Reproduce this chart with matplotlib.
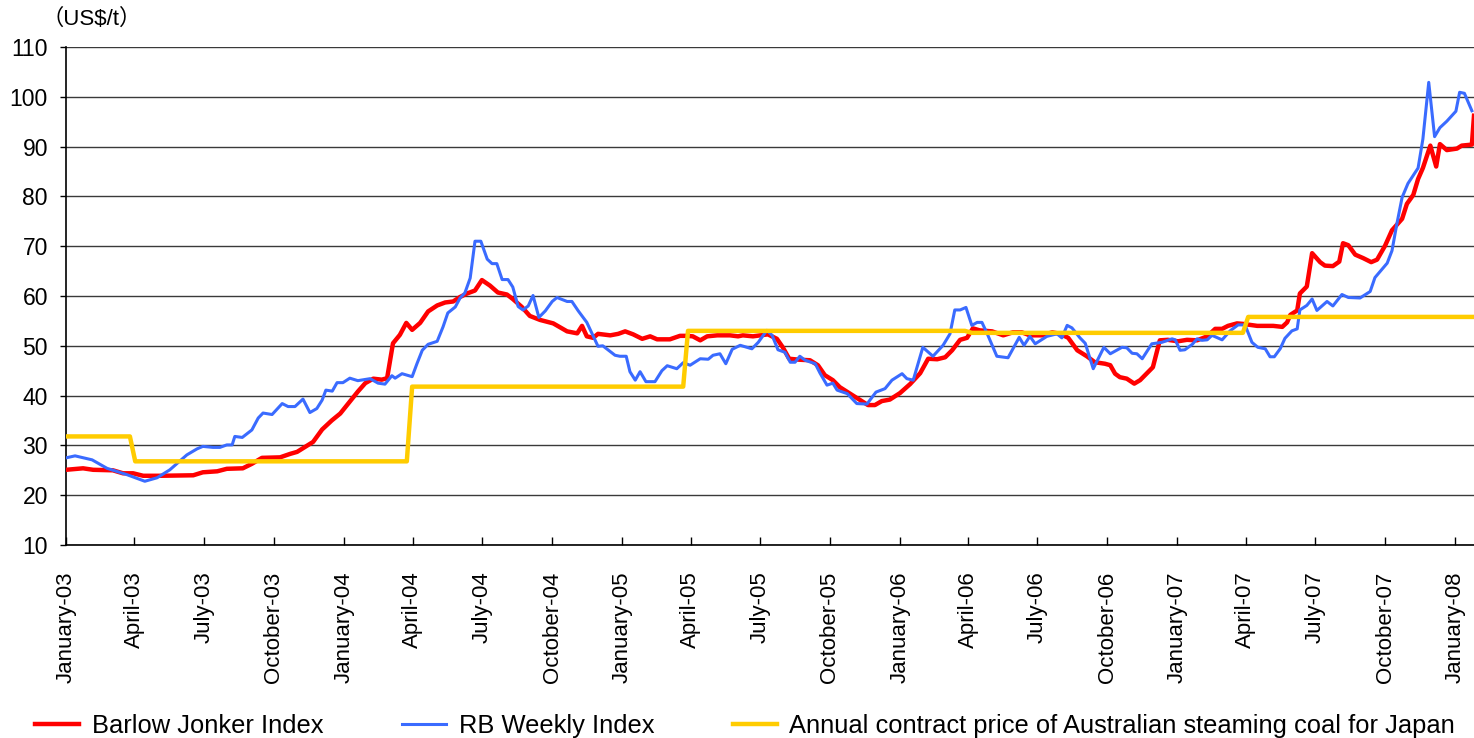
import numpy as np
import pandas as pd
import matplotlib
matplotlib.use("Agg")
import matplotlib.pyplot as plt
import matplotlib.dates as mdates

plt.rcParams['font.family'] = ['Liberation Sans', 'Noto Sans CJK JP', 'DejaVu Sans']

# ---- data (x in weeks since 1 January 2003) ----
start_date = "2003-01-01"
x_end_week = 264.4

red_week = [0.0, 3.2, 5.1, 8.8, 10.7, 12.6, 14.5, 17.7, 23.9, 25.7, 28.4, 30.2, 33.2, 34.9, 36.8,
            40.2, 42.1, 43.4, 44.9, 46.4, 48.1, 49.9, 51.5, 53.3, 54.8, 56.2, 57.7, 59.3, 60.3,
            61.4, 62.7, 63.9, 65.0, 66.5, 68.0, 69.7, 71.2, 72.7, 74.0, 75.3, 76.8, 78.1, 79.6,
            81.1, 82.8, 83.9, 85.6, 87.1, 89.0, 91.5, 94.1, 96.0, 96.9, 97.8, 99.0, 99.9, 102.2,
            103.7, 105.0, 106.5, 108.2, 109.7, 111.0, 113.4, 115.3, 116.6, 117.7, 119.1, 120.4,
            122.3, 124.7, 126.2, 127.1, 129.0, 131.8, 133.5, 134.6, 135.8, 137.8, 139.7, 141.2,
            142.5, 144.0, 145.3, 147.2, 149.1, 150.6, 151.9, 153.2, 154.7, 156.6, 158.5, 160.4,
            161.9, 163.6, 165.1, 166.4, 167.9, 169.2, 170.3, 171.6, 173.9, 176.0, 177.8, 179.5,
            181.0, 183.3, 185.2, 186.7, 188.2, 189.9, 191.7, 193.2, 195.1, 196.1, 197.0, 197.9,
            199.2, 200.6, 201.7, 203.0, 204.1, 205.4, 206.9, 208.8, 210.5, 212.4, 214.3, 215.8,
            217.1, 218.2, 219.9, 221.0, 223.7, 226.7, 228.4, 229.3, 229.9, 231.2, 231.7, 233.0,
            234.0, 235.5, 236.4, 237.9, 239.1, 239.8, 240.8, 242.1, 243.6, 245.1, 246.2, 247.7,
            249.0, 250.9, 251.8, 253.0, 253.9, 254.8, 256.2, 257.3, 258.0, 259.3, 261.2, 262.1,
            264.0, 264.4]
red_val = [25.1, 25.4, 25.1, 25.0, 24.4, 24.4, 23.9, 23.9, 24.0, 24.6, 24.8, 25.3, 25.4, 26.3, 27.5,
           27.6, 28.3, 28.7, 29.7, 30.7, 33.2, 35.0, 36.4, 38.8, 40.8, 42.5, 43.4, 43.2, 43.5,
           50.5, 52.2, 54.6, 53.2, 54.6, 56.9, 58.1, 58.7, 58.9, 59.8, 60.5, 61.1, 63.2, 62.1,
           60.7, 60.3, 59.4, 57.8, 56.0, 55.2, 54.5, 52.9, 52.5, 54.0, 51.9, 51.6, 52.4, 52.1,
           52.4, 52.9, 52.3, 51.4, 51.9, 51.3, 51.3, 52.0, 52.0, 51.9, 51.1, 51.9,
           52.1, 52.1, 51.9, 52.1, 51.9, 52.3, 51.4, 49.7, 47.4, 47.2, 47.1, 46.1,
           44.1, 43.1, 41.7, 40.4, 39.1, 38.1, 38.1, 38.9, 39.2, 40.5, 42.3, 44.5,
           47.4, 47.3, 47.7, 49.1, 51.2, 51.6, 53.5, 53.1, 52.9, 52.1, 52.7, 52.7,
           52.1, 52.1, 52.7, 52.4, 51.6, 49.1, 47.9, 46.7, 46.4, 46.1, 44.4, 43.7,
           43.4, 42.4, 43.1, 44.5, 45.7, 51.1, 51.2, 50.9, 51.2, 51.1, 51.9, 53.4,
           53.4, 54.0, 54.5, 54.4, 54.0, 54.0, 53.8, 54.7, 56.2, 57.1, 60.5, 61.9,
           68.6, 66.8, 66.1, 66.0, 66.9, 70.6, 70.2, 68.3, 67.6, 66.8, 67.3, 70.1,
           73.2, 75.5, 78.5, 80.3, 83.5, 85.7, 90.2, 86.0, 90.5, 89.3, 89.6, 90.2,
           90.4, 96.2]

blue_week = [0.0, 1.7, 4.9, 7.7, 11.5, 14.8, 17.1, 19.5, 21.0, 22.7, 24.6, 25.7, 27.6, 28.9, 30.2,
             31.2, 31.7, 33.1, 34.9, 36.1, 37.0, 38.7, 40.6, 41.7, 43.0, 44.5, 45.8, 47.1, 48.1,
             48.8, 50.0, 50.9, 52.0, 53.3, 54.8, 57.1, 58.6, 59.9, 61.2, 61.8, 63.1, 65.0, 65.9,
             66.9, 68.0, 69.7, 70.8, 71.7, 73.1, 74.0, 74.9, 75.9, 76.8, 77.9, 79.1, 80.0, 80.9,
             81.9, 83.0, 83.9, 84.9, 85.8, 86.8, 87.7, 88.8, 90.0, 91.3, 92.2, 94.1, 95.0, 96.2,
             97.8, 98.8, 99.9, 100.8, 103.1, 104.0, 105.2, 105.9, 106.9, 107.8, 108.9, 110.6,
             111.9, 112.9, 114.7, 115.9, 117.2, 119.1, 120.6, 121.5, 122.8, 123.9, 125.1, 126.6,
             128.8, 130.0, 131.6, 132.6, 133.7, 135.0, 136.0, 136.9, 137.8, 138.8, 140.7, 141.6,
             142.9, 144.0, 144.8, 146.7, 148.5, 150.4, 152.1, 153.8, 155.1, 157.0, 157.9, 159.1,
             160.9, 162.8, 164.7, 166.0, 166.9, 167.9, 169.0, 170.1, 171.1, 172.0, 173.0, 174.8,
             176.9, 179.0, 179.9, 181.0, 182.0, 184.2, 186.1, 187.0, 188.0, 188.9, 190.4, 191.4,
             192.9, 194.9, 196.1, 198.3, 199.2, 200.2, 201.1, 202.1, 203.9, 205.8, 207.7, 208.3,
             209.2, 210.1, 211.5, 212.4, 213.3, 214.3, 215.2, 217.1, 218.6, 220.1, 221.4, 222.7,
             223.8, 225.2, 226.1, 226.9, 228.0, 228.9, 230.2, 231.2, 231.7, 233.0, 234.0, 234.9,
             236.8, 237.9, 239.6, 240.8, 243.0, 244.9, 245.8, 248.1, 249.0, 249.9, 250.9, 252.0,
             253.9, 254.8, 255.9, 257.0, 258.0, 259.3, 261.0, 261.7, 262.6, 264.0]
blue_val = [27.5, 27.9, 27.1, 25.4, 24.1, 22.8, 23.5, 25.1, 26.5, 28.1, 29.3, 29.8, 29.6, 29.6, 30.1,
            30.1, 31.8, 31.6, 33.1, 35.5, 36.5, 36.2, 38.4, 37.8, 37.8, 39.3, 36.6, 37.4, 39.1,
            41.1, 40.9, 42.6, 42.6, 43.5, 43.0, 43.4, 42.5, 42.3, 44.0, 43.5, 44.4, 43.8, 46.4,
            49.1, 50.3, 50.9, 53.8, 56.6, 57.8, 59.6, 60.6, 63.6, 71.0, 71.0, 67.4, 66.5, 66.5,
            63.3, 63.3, 61.8, 57.9, 57.2, 58.0, 60.1, 55.7, 57.0, 58.9, 59.7, 58.9, 58.9, 57.0,
            54.7, 52.4, 49.9, 50.0, 48.1, 47.9, 47.9, 44.8, 43.1, 44.8, 42.8, 42.8,
            45.0, 46.0, 45.4, 46.6, 46.1, 47.4, 47.3, 48.1, 48.4, 46.4, 49.3, 50.1,
            49.4, 50.7, 53.1, 52.1, 49.2, 48.7, 46.7, 46.7, 47.9, 47.1, 46.4, 44.5,
            42.1, 42.5, 41.1, 40.4, 38.4, 38.3, 40.7, 41.4, 43.1, 44.4, 43.4, 43.1,
            49.7, 47.9, 50.1, 52.4, 57.2, 57.2, 57.7, 54.1, 54.7, 54.7, 52.4, 47.9,
            47.6, 51.7, 50.1, 51.9, 50.4, 51.9, 52.4, 51.6, 54.1, 53.6, 51.6, 50.5,
            45.4, 49.7, 48.4, 49.7, 49.6, 48.5, 48.4, 47.4, 50.4, 50.7, 51.4, 51.2,
            49.1, 49.2, 50.3, 51.4, 51.1, 51.2, 52.1, 51.2, 53.0, 54.2, 54.2, 50.7,
            49.7, 49.4, 47.8, 47.8, 49.4, 51.5, 53.0, 53.4, 57.2, 58.1, 59.4, 57.1,
            58.9, 58.0, 60.3, 59.7, 59.6, 60.9, 63.7, 66.6, 69.1, 74.4, 79.8, 82.6,
            85.7, 91.5, 102.9, 92.0, 93.8, 95.1, 97.1, 100.9, 100.7, 97.2]

yellow_week = [0.0, 12.0, 13.0, 64.0, 65.0, 115.9, 116.8, 168.8, 170.1, 221.0, 222.0, 264.4]
yellow_val = [31.8, 31.8, 26.8, 26.8, 41.8, 41.8, 53.0, 53.0, 52.6, 52.6, 55.8, 55.8]

series_names = ["Barlow Jonker Index", "RB Weekly Index",
                "Annual contract price of Australian steaming coal for Japan"]
unit_label = "\uff08US$/t\uff09"
y_ticks = list(range(10, 111, 10))


def to_dates(weeks):
    return pd.Timestamp(start_date) + pd.to_timedelta(np.asarray(weeks) * 7, unit="D")


fig = plt.figure(figsize=(14.74, 7.38), dpi=100)
ax = fig.add_axes([66 / 1474, 1 - 545 / 738, 1 - 66 / 1474, (545 - 47) / 738])

ax.plot(to_dates(red_week), red_val, color="#FF0000", lw=3.2, label=series_names[0],
        solid_joinstyle="round", zorder=3)
ax.plot(to_dates(blue_week), blue_val, color="#3A6BFF", lw=2.2, label=series_names[1],
        solid_joinstyle="round", zorder=4)
ax.plot(to_dates(yellow_week), yellow_val, color="#FFCC00", lw=3.2, label=series_names[2],
        zorder=5)

ax.set_ylim(10, 110)
ax.set_yticks(y_ticks)
ax.set_xlim(to_dates([0.0])[0], to_dates([x_end_week])[0])
ax.xaxis.set_major_locator(mdates.MonthLocator(bymonth=[1, 4, 7, 10]))
ax.xaxis.set_major_formatter(mdates.DateFormatter("%B-%y"))

ax.grid(axis="y", color="#3a3a3a", lw=1.0, zorder=1)
for side in ("top", "right"):
    ax.spines[side].set_visible(False)
for side in ("left", "bottom"):
    ax.spines[side].set_color("black")
    ax.spines[side].set_linewidth(1.2)

ax.tick_params(axis="y", direction="out", length=4, width=1, labelsize=16.5, pad=9)
ax.tick_params(axis="x", direction="in", length=6, width=1, labelsize=16, pad=19,
               labelrotation=90)

fig.text(0.0622, 0.974, unit_label, fontsize=16, ha="center", va="center")

fig.legend(loc="center left", bbox_to_anchor=(0.024, 0.016), ncol=3, frameon=False,
           fontsize=18.4, handlelength=1.7, handletextpad=0.5, columnspacing=3.1,
           borderaxespad=0, borderpad=0)

fig.savefig("out.png", dpi=100)
